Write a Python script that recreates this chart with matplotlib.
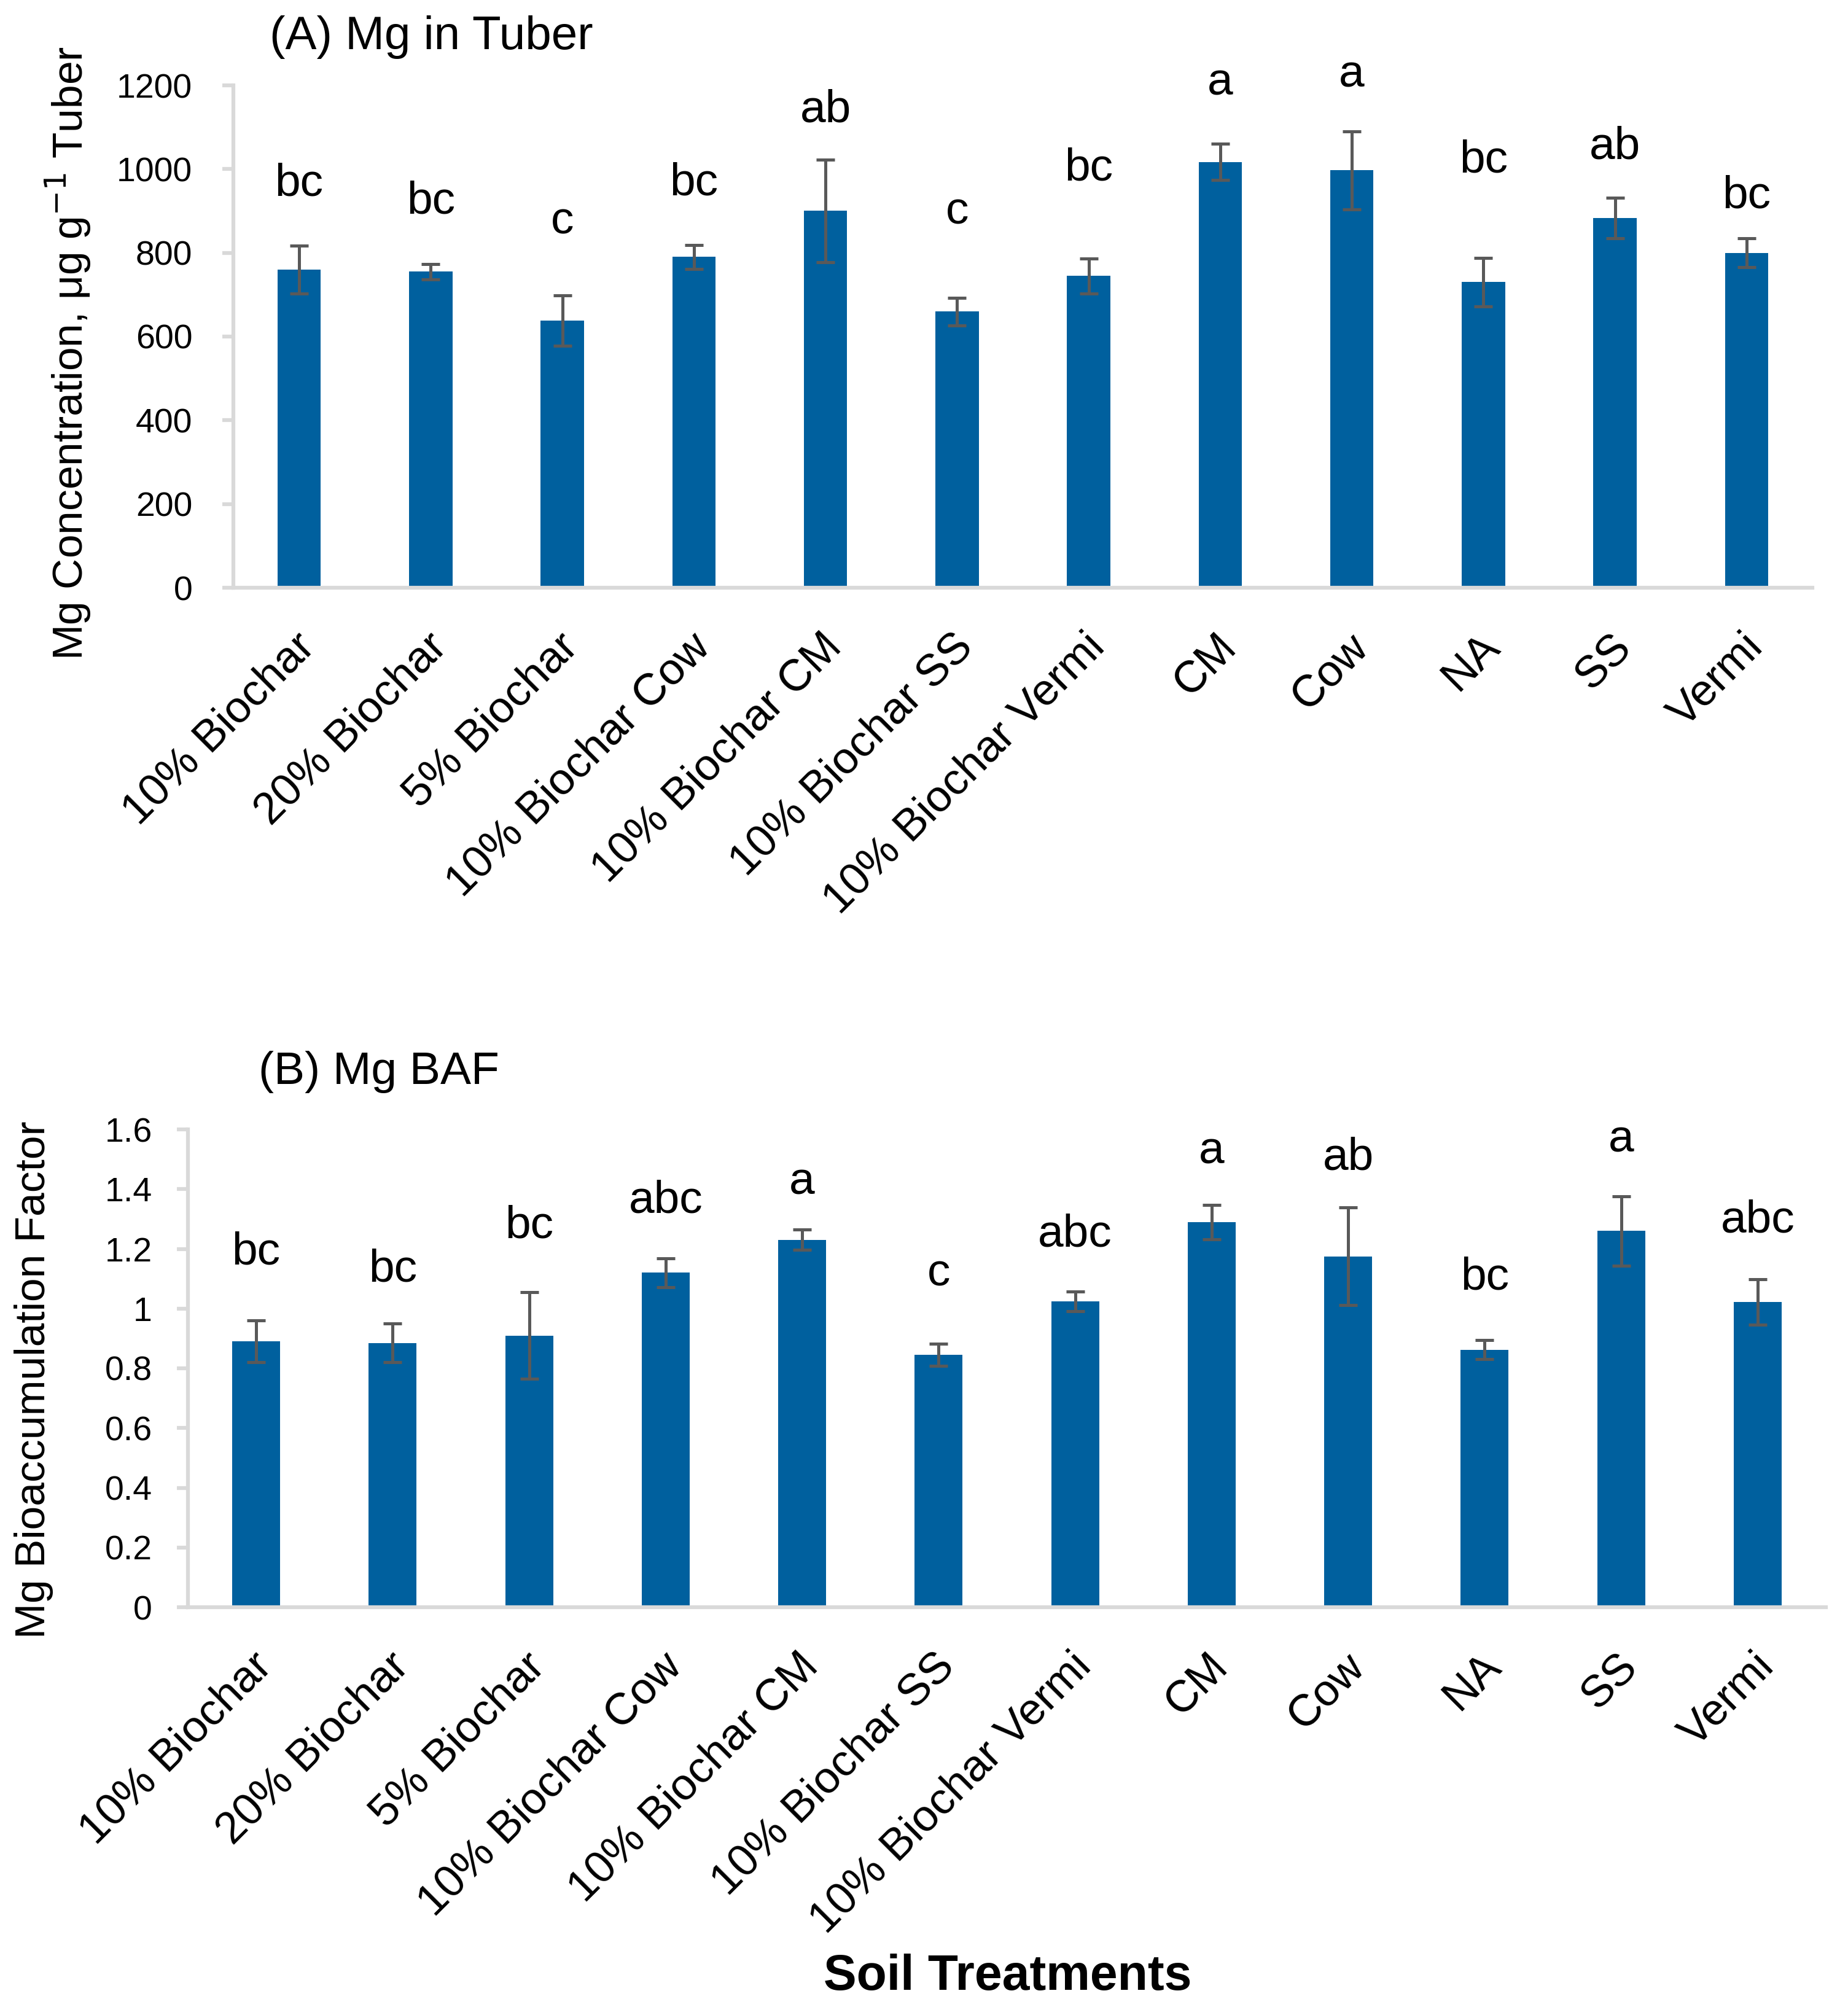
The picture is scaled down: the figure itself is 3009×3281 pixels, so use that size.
import matplotlib
matplotlib.use("Agg")
import matplotlib.pyplot as plt
import matplotlib.transforms as mtransforms
from matplotlib.ticker import FuncFormatter, MultipleLocator

plt.rcParams['font.family'] = ['Liberation Sans', 'DejaVu Sans']

categories = ["10% Biochar", "20% Biochar", "5% Biochar", "10% Biochar Cow",
              "10% Biochar CM", "10% Biochar SS", "10% Biochar Vermi", "CM",
              "Cow", "NA", "SS", "Vermi"]

# (A) Mg in Tuber, ug/g
tuber_mean = [760, 755, 638, 790, 900, 660, 745, 1017, 997, 730, 883, 800]
tuber_err = [57, 18, 60, 28, 123, 33, 42, 43, 93, 58, 49, 34]
tuber_letters = ["bc", "bc", "c", "bc", "ab", "c", "bc", "a", "a", "bc", "ab", "bc"]
tuber_letter_y = [936, 894, 845, 938, 1112, 869, 973, 1177, 1196, 992, 1025, 908]

# (B) Mg BAF
baf_mean = [0.890, 0.885, 0.910, 1.120, 1.230, 0.845, 1.025, 1.290, 1.175, 0.862, 1.260, 1.022]
baf_err = [0.070, 0.065, 0.145, 0.048, 0.034, 0.037, 0.033, 0.058, 0.163, 0.032, 0.116, 0.077]
baf_letters = ["bc", "bc", "bc", "abc", "a", "c", "abc", "a", "ab", "bc", "a", "abc"]
baf_letter_y = [1.149, 1.092, 1.238, 1.322, 1.384, 1.077, 1.208, 1.486, 1.466, 1.064, 1.525, 1.255]

BAR = '#00609E'
ERR = '#595959'
AXC = '#D9D9D9'

W, H = 3009, 3281
fig = plt.figure(figsize=(W / 100, H / 100), dpi=100)

ax1 = fig.add_axes([380 / W, 1 - 957 / H, (2951 - 380) / W, (957 - 139) / H])
ax2 = fig.add_axes([306 / W, 1 - 2617 / H, (2973 - 306) / W, (2617 - 1839) / H])


def style(ax, means, errs, letters, letter_y, ymax, ystep, width, ypad):
    x = list(range(len(categories)))
    ax.bar(x, means, width=width, color=BAR, zorder=2)
    ax.errorbar(x, means, yerr=errs, fmt='none', ecolor=ERR, elinewidth=3.6,
                capsize=11, capthick=3.6, zorder=3)
    for xi, lab, ly in zip(x, letters, letter_y):
        ax.text(xi, ly, lab, ha='center', va='baseline', fontsize=54, color='black')
    ax.set_xlim(-0.5, len(categories) - 0.5)
    ax.set_ylim(0, ymax)
    ax.yaxis.set_major_locator(MultipleLocator(ystep))
    ax.yaxis.set_major_formatter(FuncFormatter(lambda v, p: f"{round(v, 6):g}"))
    for s in ['top', 'right']:
        ax.spines[s].set_visible(False)
    for s in ['left', 'bottom']:
        ax.spines[s].set_color(AXC)
        ax.spines[s].set_linewidth(4.5)
    ax.tick_params(axis='y', colors=AXC, labelcolor='black', length=13, width=4.5,
                   labelsize=40, pad=ypad)
    ax.tick_params(axis='x', length=0, labelsize=52, pad=45)
    ax.set_xticks(x)
    ax.set_xticklabels(categories, rotation=45, ha='right', va='top',
                       rotation_mode='anchor')
    off = mtransforms.ScaledTranslation(-8 / 100, 0, fig.dpi_scale_trans)
    for t in ax.get_xticklabels():
        t.set_transform(t.get_transform() + off)


style(ax1, tuber_mean, tuber_err, tuber_letters, tuber_letter_y, 1200, 200, 0.33, 35)
style(ax2, baf_mean, baf_err, baf_letters, baf_letter_y, 1.6, 0.2, 0.35, 29)

fig.text(111 / W, 1 - 575 / H, "Mg Concentration, μg g$^{-1}$ Tuber", rotation=90,
         ha='center', va='center', fontsize=50)
fig.text(55 / W, 1 - 2247 / H, "Mg Bioaccumulation Factor", rotation=90,
         ha='center', va='center', fontsize=50)

fig.text(439 / W, 1 - 61 / H, "(A) Mg in Tuber", ha='left', va='center', fontsize=55)
fig.text(421 / W, 1 - 1745 / H, "(B) Mg BAF", ha='left', va='center', fontsize=54)

fig.text(1641 / W, 1 - 3219 / H, "Soil Treatments", ha='center', va='center',
         fontsize=58, fontweight='bold')

fig.savefig("out.png", dpi=100, facecolor='white')
